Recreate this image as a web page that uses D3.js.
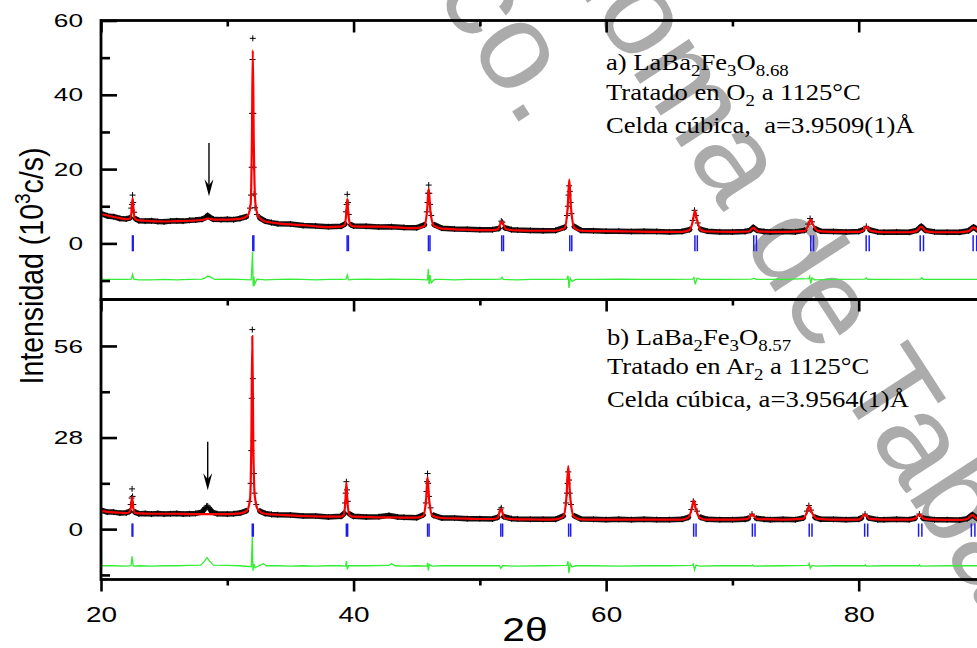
<!DOCTYPE html>
<html>
<head>
<meta charset="utf-8">
<script src="https://cdn.jsdelivr.net/npm/d3@7"></script>
<style>
  body { margin: 0; background: #fff; }
  svg { display: block; }
</style>
</head>
<body>
<svg id="chart" width="977" height="648"></svg>
<script>
// ---- data (2theta in degrees, intensity in 10^3 c/s) ----
var xMajor = [20, 40, 60, 80];
var xMinor = [30, 50, 70, 90];
var yMajorA = [0, 20, 40, 60], yMinorA = [-10, 10, 30, 50];
var yMajorB = [0, 28, 56], yMinorB = [-14, 14, 42];

// Bragg positions, K-alpha1 / K-alpha2
var braggA1 = [22.49, 32.02, 39.49, 45.93, 51.73, 57.12, 67.03, 71.69, 76.20, 80.59, 84.87, 89.06];
var braggA2 = [22.55, 32.10, 39.59, 46.05, 51.87, 57.28, 67.22, 71.90, 76.42, 80.83, 85.13, 89.34];
var braggB1 = [22.46, 31.98, 39.43, 45.86, 51.66, 57.03, 66.93, 71.58, 76.08, 80.47, 84.74, 88.92];
var braggB2 = [22.52, 32.06, 39.53, 45.98, 51.80, 57.19, 67.12, 71.79, 76.30, 80.71, 85.00, 89.20];

// panel a) observed
var obsA = [[20.0,8.0],[20.5,7.4],[21.0,7.2],[21.5,6.7],[22.0,6.6],[22.3,6.9],[22.4,9.5],[22.45,10.5],[22.5,13.0],[22.55,11.0],[22.62,8.4],[22.75,6.6],[23.0,6.1],[23.5,6.0],[24.0,6.1],[24.5,5.9],[25.0,5.8],[25.5,6.0],[26.0,6.1],[26.5,6.0],[27.0,6.2],[27.5,6.3],[28.0,6.5],[28.3,7.0],[28.45,7.5],[28.6,7.1],[28.9,6.5],[29.5,6.4],[30.0,6.5],[30.5,6.4],[31.0,6.7],[31.5,7.2],[31.8,9.5],[31.88,13],[31.93,20.5],[31.97,35],[32.0,49.5],[32.02,55.2],[32.06,35],[32.09,20.5],[32.13,13.3],[32.2,9.6],[32.35,7.8],[32.6,6.8],[33.0,6.0],[33.5,5.6],[34,5.3],[35,5.2],[36,4.8],[37,4.7],[38,4.5],[39,4.6],[39.3,5.2],[39.4,8.5],[39.45,10.5],[39.5,13.2],[39.56,11],[39.62,7.8],[39.8,5.0],[40,4.7],[41,4.6],[42,4.4],[43,4.5],[44,4.3],[45,4.2],[45.6,5.0],[45.8,8.5],[45.86,11],[45.9,13.5],[45.95,15.7],[46.0,13.5],[46.06,10.5],[46.15,7.5],[46.4,5.0],[47,4.1],[48,3.9],[49,3.8],[50,3.7],[51,3.7],[51.5,4.0],[51.7,6.0],[51.78,5.7],[52.0,4.2],[52.5,3.7],[53,3.6],[54,3.5],[55,3.4],[56,3.5],[56.7,4.3],[56.9,7.5],[56.97,10],[57.02,13],[57.07,15.5],[57.12,14],[57.18,11],[57.25,8],[57.5,4.5],[58,3.5],[59,3.4],[60,3.3],[61,3.3],[62,3.2],[63,3.3],[64,3.2],[65,3.1],[66,3.2],[66.6,3.7],[66.85,6.2],[67.0,8.9],[67.1,7.5],[67.25,5.5],[67.5,3.8],[68,3.3],[69,3.1],[70,3.1],[71,3.2],[71.4,3.5],[71.65,4.3],[71.95,3.5],[72.5,3.2],[73,3.1],[74,3.2],[75,3.1],[75.7,3.5],[76.0,5.2],[76.15,6.7],[76.3,5.8],[76.6,3.9],[77,3.3],[78,3.2],[79,3.1],[80,3.2],[80.3,3.6],[80.6,4.6],[80.9,3.6],[81.5,3.1],[82,3.0],[83,3.1],[84,3.0],[84.6,3.5],[84.95,4.6],[85.3,3.5],[86,3.1],[87,3.0],[88,3.0],[88.7,3.4],[89.1,4.4],[89.5,3.4],[90,3.0]];
// panel a) calculated
var calcA = [[20.0,7.9],[20.5,7.5],[21.0,7.1],[21.5,6.8],[22.0,6.5],[22.3,6.7],[22.42,8.6],[22.5,12.2],[22.58,8.6],[22.7,6.6],[23.0,6.2],[24.0,6.0],[25.0,5.9],[26.0,6.0],[27.0,6.1],[28.0,6.3],[28.5,6.7],[29.0,6.4],[30.0,6.4],[31.0,6.6],[31.6,7.4],[31.85,10.5],[31.95,28],[32.02,52],[32.1,27],[32.22,11],[32.5,7.0],[33.0,5.9],[34.0,5.4],[35.0,5.1],[36.0,4.9],[37.0,4.6],[38.0,4.4],[39.0,4.5],[39.3,5.0],[39.42,8.0],[39.5,12.0],[39.58,8.0],[39.75,5.0],[40.0,4.6],[41,4.5],[42,4.5],[43,4.4],[44,4.2],[45,4.1],[45.6,4.7],[45.82,8.8],[45.95,14.8],[46.08,8.8],[46.35,4.8],[47,4.0],[48,3.8],[49,3.7],[50,3.6],[51,3.6],[51.45,3.9],[51.72,5.9],[52.05,3.9],[52.5,3.6],[53,3.5],[54,3.4],[55,3.4],[56,3.4],[56.7,4.1],[56.95,9.5],[57.08,17.2],[57.22,9.5],[57.5,4.1],[58,3.4],[59,3.3],[60,3.3],[62,3.2],[64,3.1],[66,3.1],[66.6,3.6],[66.88,6.2],[67.03,8.8],[67.2,6.2],[67.5,3.6],[68,3.2],[70,3.1],[71.3,3.2],[71.65,4.2],[72.05,3.2],[74,3.1],[75.7,3.3],[76.02,5.0],[76.18,6.5],[76.38,5.0],[76.8,3.3],[78,3.1],[80,3.1],[80.3,3.4],[80.6,4.5],[80.95,3.4],[82,3.0],[84,3.0],[84.55,3.3],[84.95,4.5],[85.3,3.3],[86,3.0],[88,3.0],[88.7,3.3],[89.1,4.3],[89.5,3.3],[90,3.0]];
// panel a) difference (obs - calc, shifted)
var diffA = [[20.0,-0.9],[20.05,-9.6],[21,-9.7],[22,-9.7],[22.4,-9.6],[22.5,-8.3],[22.6,-9.6],[23,-9.8],[24,-9.8],[25,-9.7],[26,-9.8],[27,-9.7],[28,-9.6],[28.3,-9.2],[28.45,-8.8],[28.7,-9.1],[29,-9.7],[30,-9.6],[31,-9.7],[31.9,-9.8],[32.0,-2.3],[32.05,-11.6],[32.1,-8.9],[32.17,-11.0],[32.35,-9.6],[33,-9.8],[34,-9.7],[35,-9.6],[36,-9.7],[37,-9.8],[38,-9.7],[39,-9.7],[39.4,-9.6],[39.5,-8.5],[39.6,-9.8],[40,-9.7],[41,-9.6],[42,-9.7],[43,-9.6],[44,-9.7],[45,-9.7],[45.85,-9.8],[45.92,-6.9],[45.98,-11.0],[46.05,-8.5],[46.15,-10.6],[46.4,-9.7],[47,-9.7],[48,-9.8],[49,-9.7],[50,-9.7],[51,-9.7],[51.65,-9.6],[51.75,-9.1],[51.85,-9.7],[53,-9.8],[54,-9.7],[55,-9.7],[56,-9.7],[56.9,-9.6],[56.98,-8.7],[57.06,-12.0],[57.15,-9.3],[57.3,-10.2],[57.6,-9.7],[59,-9.7],[61,-9.6],[63,-9.7],[65,-9.7],[66.85,-9.6],[66.95,-9.2],[67.05,-11.0],[67.2,-9.4],[67.5,-9.7],[69,-9.7],[71.5,-9.6],[71.7,-9.4],[71.9,-9.7],[74,-9.7],[76.05,-9.5],[76.12,-8.9],[76.2,-10.8],[76.3,-9.3],[76.5,-9.8],[78,-9.7],[80.5,-9.6],[80.6,-9.3],[80.7,-9.7],[82,-9.7],[84.9,-9.6],[85.0,-9.2],[85.1,-9.7],[87,-9.7],[90,-9.7]];

// panel b) observed
var obsB = [[20.0,5.8],[20.5,5.2],[21,5.2],[21.5,4.9],[22.0,5.0],[22.25,5.4],[22.35,7.5],[22.42,9.5],[22.46,12.3],[22.5,10],[22.56,7.5],[22.7,5.2],[23,4.7],[23.5,4.8],[24,4.6],[24.5,4.8],[25,4.6],[25.5,4.7],[26,4.8],[26.5,4.6],[27,4.7],[27.5,4.8],[28,5.2],[28.15,5.9],[28.25,6.5],[28.35,7.0],[28.45,7.1],[28.55,6.6],[28.65,6.0],[28.8,5.2],[29.2,4.7],[30,4.6],[30.5,4.7],[31,4.9],[31.5,5.6],[31.75,8.5],[31.85,14],[31.9,24],[31.94,40],[31.98,61],[32.02,46],[32.06,27],[32.1,17],[32.16,11],[32.3,7.5],[32.6,5.5],[33,4.8],[33.5,4.5],[34,4.4],[35,4.3],[36,4.0],[37,4.0],[38,3.7],[39,3.9],[39.25,4.8],[39.33,8],[39.38,11],[39.43,14.5],[39.48,12],[39.54,8.5],[39.7,4.6],[40,3.9],[41,3.7],[42,3.8],[42.8,4.2],[43.5,3.7],[44,3.6],[45,3.5],[45.5,4.3],[45.72,8],[45.78,11.5],[45.82,14.5],[45.86,17.0],[45.91,14],[45.97,10],[46.1,6.5],[46.35,4.2],[47,3.4],[48,3.4],[49,3.2],[50,3.2],[51,3.1],[51.4,3.6],[51.62,6.0],[51.7,6.5],[51.9,3.8],[52.5,3.2],[53,3.1],[54,3.0],[55,3.0],[56,3.0],[56.6,4.0],[56.82,8],[56.9,11],[56.95,14],[57.0,17.5],[57.06,15],[57.12,11],[57.22,7.5],[57.5,4.0],[58,3.1],[59,3.0],[60,2.9],[61,3.0],[62,2.9],[63,3.0],[64,2.9],[65,2.9],[66,3.0],[66.5,3.6],[66.75,6.0],[66.9,8.5],[67.02,7.5],[67.2,5.5],[67.5,3.6],[68,3.0],[69,2.9],[70,2.9],[71,3.0],[71.25,3.3],[71.55,4.6],[71.9,3.3],[72.5,3.0],[73,2.9],[74,3.0],[75,2.9],[75.6,3.4],[75.9,5.5],[76.05,7.2],[76.22,5.8],[76.55,3.6],[77,3.0],[78,3.0],[79,2.9],[80,3.0],[80.2,3.4],[80.5,4.6],[80.8,3.4],[81.5,2.9],[82,2.9],[83,3.0],[84,2.9],[84.45,3.3],[84.8,4.6],[85.1,3.3],[86,2.9],[87,2.9],[88,2.8],[88.6,3.2],[89.0,4.4],[89.4,3.2],[90,2.8]];
// panel b) calculated
var calcB = [[20.0,5.6],[20.5,5.3],[21,5.1],[21.5,5.0],[22.0,4.9],[22.25,5.2],[22.38,7.0],[22.46,9.9],[22.54,7.0],[22.68,5.0],[23,4.8],[24,4.7],[25,4.7],[26,4.7],[27,4.6],[28,4.6],[29,4.6],[30,4.6],[31,4.8],[31.55,5.6],[31.8,9],[31.9,25],[31.98,59],[32.06,26],[32.18,10],[32.45,5.8],[33,4.7],[34,4.4],[35,4.2],[36,4.0],[37,3.9],[38,3.8],[39,3.8],[39.23,4.4],[39.35,8.5],[39.43,14.2],[39.51,8.5],[39.68,4.3],[40,3.8],[41,3.7],[42,3.6],[43,3.6],[44,3.5],[45,3.5],[45.5,4.0],[45.74,9],[45.86,16.0],[45.98,9],[46.25,4.1],[47,3.4],[48,3.3],[49,3.2],[50,3.1],[51,3.1],[51.4,3.4],[51.66,6.3],[51.95,3.4],[52.5,3.1],[53,3.0],[54,3.0],[55,2.9],[56,3.0],[56.6,3.8],[56.86,10],[57.0,19.3],[57.15,10],[57.45,3.8],[58,3.0],[59,2.9],[60,2.9],[62,2.9],[64,2.9],[66,2.9],[66.5,3.5],[66.78,6.2],[66.93,8.7],[67.1,6.2],[67.4,3.5],[68,2.9],[70,2.9],[71.2,3.1],[71.55,4.5],[71.95,3.1],[74,2.9],[75.6,3.2],[75.92,5.4],[76.06,7.1],[76.25,5.4],[76.7,3.2],[78,2.9],[80,2.9],[80.15,3.2],[80.5,4.5],[80.85,3.2],[82,2.9],[84,2.9],[84.45,3.2],[84.8,4.5],[85.15,3.2],[86,2.9],[88,2.8],[88.6,3.1],[89.0,4.3],[89.4,3.1],[90,2.8]];
// panel b) difference
var diffB = [[20.0,4.9],[20.05,-11.2],[21,-11.2],[22,-11.3],[22.38,-11.2],[22.46,-8.3],[22.55,-11.3],[23,-11.2],[24,-11.3],[25,-11.2],[26,-11.2],[27,-11.1],[27.9,-11.0],[28.2,-9.8],[28.4,-8.7],[28.6,-9.8],[28.9,-11.0],[30,-11.1],[31,-11.2],[31.9,-11.5],[31.98,-2.4],[32.03,-12.7],[32.1,-10.6],[32.2,-11.8],[32.5,-11.2],[32.85,-10.6],[33.1,-11.2],[34,-11.2],[35,-11.3],[36,-11.2],[37,-11.3],[38,-11.2],[39,-11.2],[39.38,-11.3],[39.43,-9.8],[39.5,-12.3],[39.6,-11.2],[41,-11.2],[42.8,-11.1],[43.0,-10.6],[43.3,-11.2],[44,-11.3],[45,-11.2],[45.8,-11.3],[45.86,-10.3],[45.92,-12.6],[46.0,-10.8],[46.2,-11.3],[47,-11.2],[49,-11.2],[51.55,-11.2],[51.66,-12.0],[51.8,-11.2],[53,-11.3],[55,-11.2],[56.9,-11.1],[56.98,-9.8],[57.05,-13.5],[57.15,-10.6],[57.3,-11.6],[57.6,-11.2],[59,-11.2],[61,-11.3],[63,-11.2],[65,-11.2],[66.8,-11.1],[66.9,-10.7],[67.0,-12.5],[67.12,-11.0],[67.4,-11.3],[69,-11.2],[71.5,-11.2],[71.6,-10.9],[71.7,-11.3],[74,-11.2],[76.0,-11.1],[76.08,-10.5],[76.16,-12.0],[76.3,-11.1],[76.6,-11.3],[78,-11.2],[80.45,-11.2],[80.52,-10.9],[80.6,-11.3],[82,-11.2],[84.75,-11.2],[84.82,-10.9],[84.9,-11.3],[87,-11.2],[90,-11.2]];

// arrows marking the impurity reflection: [2theta, from, to]
var arrowA = [28.55, 27.0, 12.7];
var arrowB = [28.45, 26.7, 11.9];

// annotation lines, as [text, "sub"|""] pieces
var notesA = [
  [["a) LaBa", ""], ["2", "sub"], ["Fe", ""], ["3", "sub"], ["O", ""], ["8.68", "sub"]],
  [["Tratado en O", ""], ["2", "sub"], [" a 1125\u00b0C", ""]],
  [["Celda c\u00fabica,  a=3.9509(1)\u00c5", ""]]
];
var notesB = [
  [["b) LaBa", ""], ["2", "sub"], ["Fe", ""], ["3", "sub"], ["O", ""], ["8.57", "sub"]],
  [["Tratado en Ar", ""], ["2", "sub"], [" a 1125\u00b0C", ""]],
  [["Celda c\u00fabica, a=3.9564(1)\u00c5", ""]]
];
var watermark = "Universidad Ju\u00e1rez Aut\u00f3noma de Tabasco.";

// ---- drawing ----
var svg = d3.select("#chart");

var x = d3.scaleLinear().domain([20, 90]).range([101, 985]);
var yA = d3.scaleLinear().domain([-15.1, 60]).range([299.5, 20.5]);
var yB = d3.scaleLinear().domain([-15.4, 70.2]).range([579.5, 299.5]);

// watermark behind everything
var wm = svg.append("g")
    .attr("fill", "#ababab")
    .style("font-family", "'Liberation Sans', Arial, sans-serif")
    .style("font-size", "124px");
wm.append("text").attr("text-anchor", "end")
    .attr("transform", "translate(524.7,130.9) rotate(57)")
    .text(watermark);
wm.append("text")
    .attr("transform", "translate(-177.7,-1175.4) rotate(57)")
    .text(watermark);

function drawPanel(id, y, obs, calc, diff, k1, k2, tickTop, tickBot, arrow) {
    var r0 = y.range();
    svg.append("clipPath").attr("id", id)
        .append("rect").attr("x", 101).attr("y", r0[1]).attr("width", 884).attr("height", r0[0] - r0[1]);
    var g = svg.append("g").attr("clip-path", "url(#" + id + ")");

    var line = d3.line().x(function (d) { return x(d[0]); }).y(function (d) { return y(d[1]); });
    var smooth = d3.line().curve(d3.curveMonotoneX)
        .x(function (d) { return x(d[0]); }).y(function (d) { return y(d[1]); });

    // difference curve
    g.append("path").datum(diff).attr("d", line)
        .attr("fill", "none").attr("stroke", "#33ee33").attr("stroke-width", 1.3);

    // bragg ticks
    g.selectAll(".bragg").data(k1.concat(k2)).enter().append("line")
        .attr("x1", function (d) { return x(d); }).attr("x2", function (d) { return x(d); })
        .attr("y1", y(tickTop)).attr("y2", y(tickBot))
        .attr("stroke", "#1c1cf0").attr("stroke-width", 1.5);

    // observed: the dense crosses form a thick band along the background,
    // and stay as separate crosses on the peak flanks
    function localMin(v) {
        return d3.min(obs, function (d) { return Math.abs(d[0] - v) < 0.8 ? d[1] : Infinity; });
    }
    var band = d3.line()
        .defined(function (d) { return d[1] - localMin(d[0]) < 1.3; })
        .x(function (d) { return x(d[0]); }).y(function (d) { return y(d[1]); });
    g.append("path").datum(obs).attr("d", band)
        .attr("fill", "none").attr("stroke", "#111").attr("stroke-width", 5.5)
        .attr("stroke-linejoin", "round").attr("stroke-linecap", "round");
    g.selectAll(".obs").data(obs).enter().append("path")
        .attr("d", function (d) {
            var px = x(d[0]), py = y(d[1]);
            return "M" + (px - 3) + "," + py + "H" + (px + 3) + "M" + px + "," + (py - 3) + "V" + (py + 3);
        })
        .attr("stroke", "#000").attr("stroke-width", 1);

    // calculated
    g.append("path").datum(calc).attr("d", smooth)
        .attr("fill", "none").attr("stroke", "#ff0000").attr("stroke-width", 2.2);

    // arrow
    var ax = x(arrow[0]), a0 = y(arrow[1]), a1 = y(arrow[2]);
    g.append("line").attr("x1", ax).attr("x2", ax).attr("y1", a0).attr("y2", a1 - 6)
        .attr("stroke", "#000").attr("stroke-width", 1.4);
    g.append("path")
        .attr("d", "M" + ax + "," + a1 + "L" + (ax - 4.5) + "," + (a1 - 17) + "L" + ax + "," + (a1 - 11) + "L" + (ax + 4.5) + "," + (a1 - 17) + "Z")
        .attr("fill", "#000");

    // frame
    svg.append("rect").attr("x", 101).attr("y", r0[1]).attr("width", 884).attr("height", r0[0] - r0[1])
        .attr("fill", "none").attr("stroke", "#000").attr("stroke-width", 2.8);
}

drawPanel("clipA", yA, obsA, calcA, diffA, braggA1, braggA2, 2.2, -2.1, arrowA);
drawPanel("clipB", yB, obsB, calcB, diffB, braggB1, braggB2, 1.7, -2.3, arrowB);

function styleAxis(g) {
    g.select(".domain").remove();
    g.selectAll(".tick line").attr("stroke", "#000").attr("stroke-width", 2.6);
}

// y axes, ticks pointing inward
function yAxis(y, major, minor) {
    var gm = svg.append("g").attr("transform", "translate(101,0)")
        .call(d3.axisLeft(y).tickValues(major).tickSize(-16).tickPadding(18).tickFormat(d3.format("d")));
    styleAxis(gm);
    gm.selectAll(".tick text")
        .style("font-family", "'Liberation Sans', Arial, sans-serif").style("font-size", "19px").attr("fill", "#000")
        .attr("x", -18 / 1.38).attr("transform", "scale(1.38,1)");
    var gn = svg.append("g").attr("transform", "translate(101,0)")
        .call(d3.axisLeft(y).tickValues(minor).tickSize(-9).tickFormat(""));
    styleAxis(gn);
}
yAxis(yA, yMajorA, yMinorA);
yAxis(yB, yMajorB, yMinorB);

// top ticks of each panel (inward)
[20.5, 299.5].forEach(function (yy) {
    var gt = svg.append("g").attr("transform", "translate(0," + yy + ")")
        .call(d3.axisTop(x).tickValues(xMajor).tickSize(-12).tickFormat(""));
    styleAxis(gt);
    var gt2 = svg.append("g").attr("transform", "translate(0," + yy + ")")
        .call(d3.axisTop(x).tickValues(xMinor).tickSize(-6).tickFormat(""));
    styleAxis(gt2);
});

// bottom axis (outward ticks, labels)
var gb = svg.append("g").attr("transform", "translate(0,579.5)")
    .call(d3.axisBottom(x).tickValues(xMajor).tickSize(12).tickPadding(15).tickFormat(d3.format("d")));
styleAxis(gb);
gb.selectAll(".tick text")
    .style("font-family", "'Liberation Sans', Arial, sans-serif").style("font-size", "22px").attr("fill", "#000")
    .attr("transform", "scale(1.27,1)");
var gb2 = svg.append("g").attr("transform", "translate(0,579.5)")
    .call(d3.axisBottom(x).tickValues(xMinor).tickSize(6).tickFormat(""));
styleAxis(gb2);

// axis titles
svg.append("text")
    .attr("transform", "translate(525,641) scale(1.2,1)")
    .attr("text-anchor", "middle")
    .style("font-family", "'Liberation Sans', Arial, sans-serif").style("font-size", "34px")
    .text("2\u03b8");

var yt = svg.append("text")
    .attr("transform", "translate(43,266) rotate(-90) scale(1,1.19)")
    .attr("text-anchor", "middle")
    .style("font-family", "'Liberation Sans', Arial, sans-serif").style("font-size", "28.5px");
yt.append("tspan").text("Intensidad (10");
yt.append("tspan").attr("dy", -11).style("font-size", "19px").text("3");
yt.append("tspan").attr("dy", 11).text("c/s)");

// annotations
function notes(lines, x0, baselines) {
    lines.forEach(function (parts, i) {
        var t = svg.append("text")
            .attr("transform", "translate(" + x0 + "," + baselines[i] + ") scale(1.11,1)")
            .style("font-family", "'Liberation Serif', 'Times New Roman', serif")
            .style("font-size", "24px").style("white-space", "pre");
        var shifted = false;
        parts.forEach(function (p) {
            var s = t.append("tspan").text(p[0]);
            if (p[1] === "sub") { s.attr("dy", shifted ? 0 : 6).style("font-size", "17px"); shifted = true; }
            else { s.attr("dy", shifted ? -6 : 0); shifted = false; }
        });
    });
}
notes(notesA, 606, [70, 100, 133]);
notes(notesB, 607, [345, 374, 407]);
</script>
</body>
</html>
